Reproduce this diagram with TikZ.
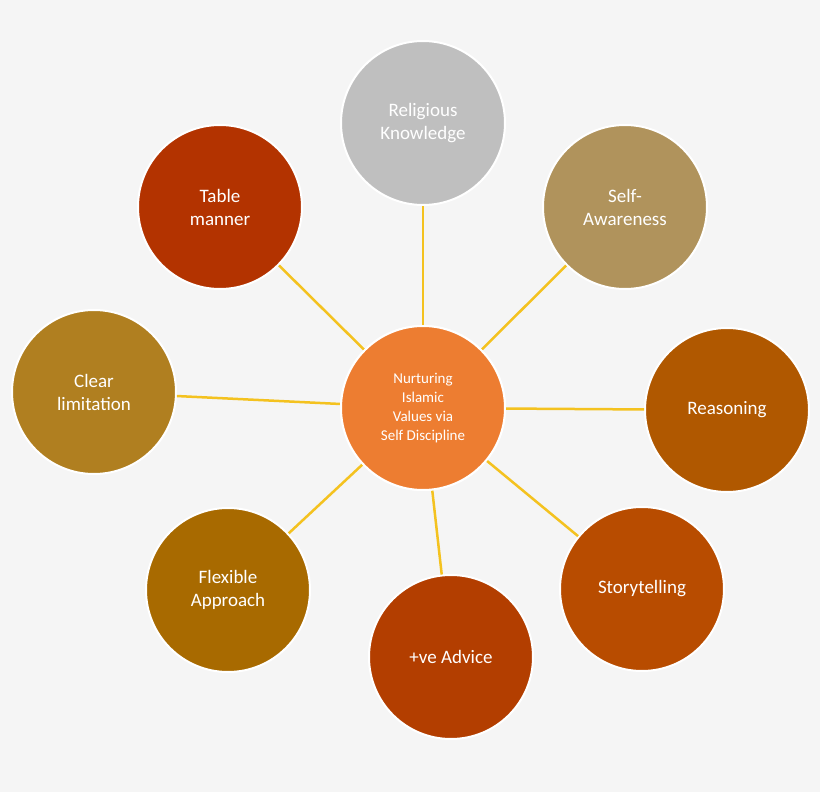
\documentclass[tikz,border=0pt]{standalone}
\usepackage{fontspec}
\setmainfont{Carlito}
\definecolor{bgc}{HTML}{F5F5F5}
\definecolor{hubc}{HTML}{ED7D31}
\definecolor{linkc}{HTML}{F4C21F}
\tikzset{
  topic/.style={circle, draw=white, line width=2pt, minimum size=164pt,
    text=white, align=center, font=\fontsize{19}{23}\selectfont},
  hub/.style={topic, fill=hubc, font=\fontsize{15}{19}\selectfont},
  link/.style={draw=linkc, line width=2.5pt}
}
\begin{document}
\begin{tikzpicture}[x=1pt,y=1pt]
  \fill[bgc] (0,0) rectangle (820,-792);
  \useasboundingbox (0,0) rectangle (820,-792);

  % hub
  \node[hub] (hub) at (423,-408) {Nurturing\\Islamic\\Values via\\Self Discipline};

  % topics
  \node[topic, fill={rgb,255:red,191;green,191;blue,191}] (know) at (423,-123) {Religious\\Knowledge};
  \node[topic, fill={rgb,255:red,176;green,147;blue,92}]  (aware) at (625,-207) {Self-\\Awareness};
  \node[topic, fill={rgb,255:red,176;green,88;blue,0}]    (reason) at (727,-410) {Reasoning};
  \node[topic, fill={rgb,255:red,184;green,76;blue,0}]    (story) at (642,-589) {Storytelling};
  \node[topic, fill={rgb,255:red,179;green,62;blue,0}]    (advice) at (451,-657) {+ve Advice};
  \node[topic, fill={rgb,255:red,168;green,106;blue,0}]   (flex) at (228,-590) {Flexible\\Approach};
  \node[topic, fill={rgb,255:red,176;green,127;blue,32}]  (clear) at (94,-392) {Clear\\limitation};
  \node[topic, fill={rgb,255:red,179;green,51;blue,0}]    (table) at (220,-207) {Table\\manner};

  % links
  \begin{scope}[on background layer/.style={}]
  \foreach \t in {know,aware,reason,story,advice,flex,clear,table}
    \draw[link] (hub) -- (\t);
  \end{scope}

  % redraw circles on top of the links
  \node[hub] at (hub) {Nurturing\\Islamic\\Values via\\Self Discipline};
\end{tikzpicture}
\end{document}
